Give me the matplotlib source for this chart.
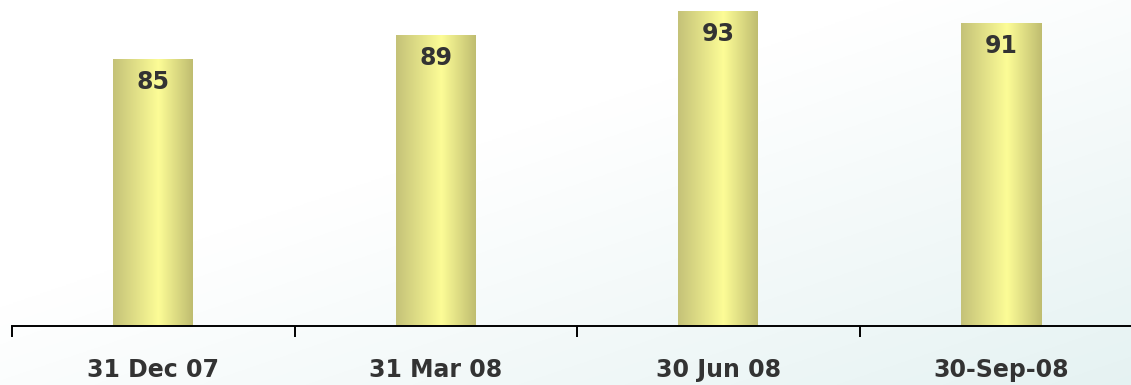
import numpy as np
import matplotlib
matplotlib.use("Agg")
import matplotlib.pyplot as plt
from matplotlib.colors import LinearSegmentedColormap

categories = ["31 Dec 07", "31 Mar 08", "30 Jun 08", "30-Sep-08"]
values = [85, 89, 93, 91]

W, H = 1131, 385
fig = plt.figure(figsize=(W / 100, H / 100), dpi=100)

# background gradient (white top-left to pale cyan bottom-right)
bg = fig.add_axes([0, 0, 1, 1], zorder=0)
xx, yy = np.meshgrid(np.linspace(0, 1, 300), np.linspace(0, 1, 300))
t = np.clip((0.75 * xx + 0.75 * yy - 0.6) / 0.9, 0, 1)
c0 = np.array([1.0, 1.0, 1.0])
c1 = np.array([0.90, 0.95, 0.95])
img = c0[None, None, :] * (1 - t[..., None]) + c1[None, None, :] * t[..., None]
bg.imshow(img, extent=[0, 1, 0, 1], aspect="auto", origin="upper")
bg.axis("off")

left_px, right_px = 12, 12 + 4 * 282.5
bottom_px = 326
ax = fig.add_axes([left_px / W, (H - bottom_px) / H, (right_px - left_px) / W, bottom_px / H], zorder=1)
ax.patch.set_alpha(0)

x = np.arange(len(categories))
bars = ax.bar(x, values, width=80 / 282.5, color="none", edgecolor="none", zorder=2)
ax.set_xlim(-0.5, len(categories) - 0.5)
ymin = 40.5
ax.set_ylim(ymin, ymin + bottom_px / 6.0)

cmap = LinearSegmentedColormap.from_list(
    "bar", [(0.0, (0.77, 0.76, 0.47)), (0.57, (0.99, 0.99, 0.59)), (1.0, (0.75, 0.74, 0.44))]
)
grad = np.linspace(0, 1, 256)[None, :]
for b in bars:
    x0, y0 = b.get_x(), b.get_y()
    w, h = b.get_width(), b.get_height()
    im = ax.imshow(grad, cmap=cmap, aspect="auto", extent=[x0, x0 + w, ymin, y0 + h], zorder=2)
    im.set_clip_path(b)

for xi, v in zip(x, values):
    ax.annotate(str(v), (xi, v), xytext=(0, -23), textcoords="offset pixels",
                ha="center", va="center", fontsize=17, fontweight="bold", color="#333333",
                family="DejaVu Sans", zorder=3)

for s in ["top", "right", "left"]:
    ax.spines[s].set_visible(False)
ax.spines["bottom"].set_linewidth(1.4)
ax.spines["bottom"].set_color("black")
ax.set_yticks([])
ax.set_xticks(np.arange(len(categories) + 1) - 0.5)
ax.set_xticklabels([])
ax.tick_params(axis="x", direction="out", length=8, width=1.4, color="black")
for xi, c in zip(x, categories):
    ax.annotate(c, (xi, ymin), xytext=(0, -44), textcoords="offset pixels",
                ha="center", va="center", fontsize=17, fontweight="bold", color="#333333",
                annotation_clip=False)

fig.savefig("out.png", dpi=100)
